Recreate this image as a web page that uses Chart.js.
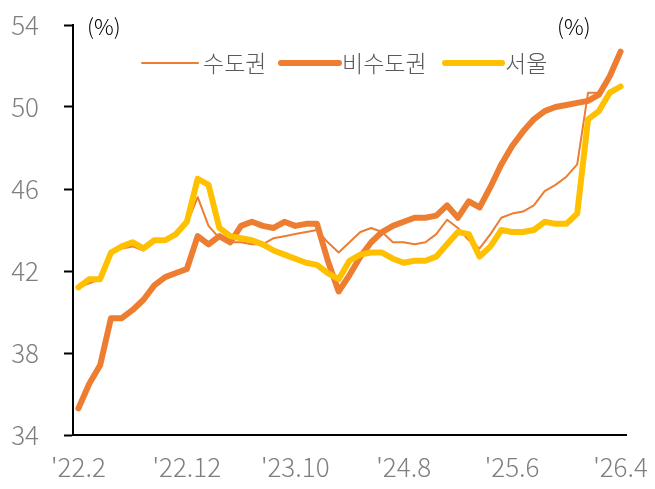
<!DOCTYPE html>
<html>
<head>
<meta charset="utf-8">
<script src="https://cdn.jsdelivr.net/npm/chart.js@4/dist/chart.umd.min.js"></script>
<style>
  html, body { margin: 0; padding: 0; background: #fff; }
  #wrap { width: 655px; height: 489px; position: relative; }
</style>
</head>
<body>
<div id="wrap"><canvas id="c" width="655" height="489"></canvas></div>
<script>
const categories = [
  "'22.2","'22.3","'22.4","'22.5","'22.6","'22.7","'22.8","'22.9","'22.10","'22.11","'22.12",
  "'23.1","'23.2","'23.3","'23.4","'23.5","'23.6","'23.7","'23.8","'23.9","'23.10","'23.11","'23.12",
  "'24.1","'24.2","'24.3","'24.4","'24.5","'24.6","'24.7","'24.8","'24.9","'24.10","'24.11","'24.12",
  "'25.1","'25.2","'25.3","'25.4","'25.5","'25.6","'25.7","'25.8","'25.9","'25.10","'25.11","'25.12",
  "'26.1","'26.2","'26.3","'26.4"
];
const seriesNames = ["수도권", "비수도권", "서울"];
const capital = [
  41.2, 41.4, 41.6, 42.9, 43.1, 43.2, 43.0, 43.4, 43.5, 43.8, 44.3,
  45.6, 44.2, 43.6, 43.4, 43.4, 43.3, 43.3, 43.6, 43.7, 43.8, 43.9,
  44.0, 43.4, 42.9, 43.4, 43.9, 44.1, 43.9, 43.4, 43.4, 43.3, 43.4,
  43.8, 44.5, 44.1, 43.5, 43.1, 43.8, 44.6, 44.8, 44.9, 45.2, 45.9,
  46.2, 46.6, 47.2, 50.7, 50.7, 51.4, 52.6
];
const nonCapital = [
  35.3, 36.5, 37.4, 39.7, 39.7, 40.1, 40.6, 41.3, 41.7, 41.9, 42.1,
  43.7, 43.3, 43.7, 43.4, 44.2, 44.4, 44.2, 44.1, 44.4, 44.2, 44.3,
  44.3, 42.5, 41.0, 41.8, 42.7, 43.4, 43.9, 44.2, 44.4, 44.6, 44.6,
  44.7, 45.2, 44.6, 45.4, 45.1, 46.1, 47.2, 48.1, 48.8, 49.4, 49.8,
  50.0, 50.1, 50.2, 50.3, 50.6, 51.5, 52.7
];
const seoul = [
  41.2, 41.6, 41.6, 42.9, 43.2, 43.4, 43.1, 43.5, 43.5, 43.8, 44.4,
  46.5, 46.2, 44.1, 43.7, 43.6, 43.5, 43.3, 43.0, 42.8, 42.6, 42.4,
  42.3, 41.9, 41.6, 42.5, 42.8, 42.9, 42.9, 42.6, 42.4, 42.5, 42.5,
  42.7, 43.3, 43.9, 43.8, 42.7, 43.2, 44.0, 43.9, 43.9, 44.0, 44.4,
  44.3, 44.3, 44.8, 49.4, 49.8, 50.7, 51.0
];
const yTicks = [34, 38, 42, 46, 50, 54];
const unitText = "(%)";

const ORANGE = '#ED7D31';
const YELLOW = '#FFC000';
const FONT = '"Noto Sans CJK KR", "Noto Sans", sans-serif';

const overlay = {
  id: 'overlay',
  afterDraw(chart) {
    const ctx = chart.ctx;
    ctx.save();
    ctx.textBaseline = 'middle';
    ctx.textAlign = 'left';
    ctx.font = '300 22px ' + FONT;
    ctx.fillStyle = '#000';
    ctx.fillText(unitText, 87, 27);
    ctx.fillText(unitText, 557, 27);

    const items = [
      { x0: 142, x1: 198, w: 2, c: ORANGE, tx: 203, name: seriesNames[0] },
      { x0: 281, x1: 339, w: 6, c: ORANGE, tx: 342, name: seriesNames[1] },
      { x0: 445, x1: 502, w: 6, c: YELLOW, tx: 505, name: seriesNames[2] }
    ];
    const ly = 63;
    items.forEach(it => {
      ctx.beginPath();
      ctx.lineCap = 'round';
      ctx.strokeStyle = it.c;
      ctx.lineWidth = it.w;
      ctx.moveTo(it.x0, ly);
      ctx.lineTo(it.x1, ly);
      ctx.stroke();
      ctx.fillStyle = '#595959';
      ctx.font = '300 23px ' + FONT;
      ctx.fillText(it.name, it.tx, ly);
    });
    ctx.restore();
  }
};

new Chart(document.getElementById('c'), {
  type: 'line',
  data: {
    labels: categories,
    datasets: [
      { label: seriesNames[0], data: capital, borderColor: ORANGE, borderWidth: 2, order: 2 },
      { label: seriesNames[1], data: nonCapital, borderColor: ORANGE, borderWidth: 6, order: 1 },
      { label: seriesNames[2], data: seoul, borderColor: YELLOW, borderWidth: 6, order: 0 }
    ]
  },
  options: {
    responsive: false,
    animation: false,
    devicePixelRatio: 1,
    layout: { padding: { top: 25, right: 29, bottom: 0, left: 0 } },
    elements: {
      point: { radius: 0, hoverRadius: 0 },
      line: { tension: 0, borderJoinStyle: 'round', borderCapStyle: 'round', fill: false }
    },
    plugins: { legend: { display: false }, tooltip: { enabled: false } },
    scales: {
      x: {
        type: 'category',
        offset: true,
        grid: { display: false, drawTicks: false },
        border: { display: true, color: '#000', width: 2 },
        ticks: {
          autoSkip: false, maxRotation: 0, minRotation: 0,
          padding: 17,
          color: '#7f7f7f',
          font: { family: FONT, size: 26, weight: '300' },
          callback: function(v, i) { return i % 10 === 0 ? categories[i] : ''; }
        },
        afterFit(s) { s.height = 54; s.paddingLeft = 0; s.paddingRight = 0; }
      },
      y: {
        min: 34, max: 54,
        afterBuildTicks(s) { s.ticks = yTicks.map(v => ({ value: v })); },
        grid: { display: true, drawOnChartArea: false, drawTicks: true, tickLength: 9, tickColor: '#000', tickWidth: 2 },
        border: { display: true, color: '#000', width: 2 },
        ticks: {
          padding: 25,
          color: '#7f7f7f',
          font: { family: FONT, size: 26, weight: '300' }
        },
        afterFit(s) { s.width = 73; s.paddingTop = 0; s.paddingBottom = 0; }
      }
    }
  },
  plugins: [overlay]
});
</script>
</body>
</html>
